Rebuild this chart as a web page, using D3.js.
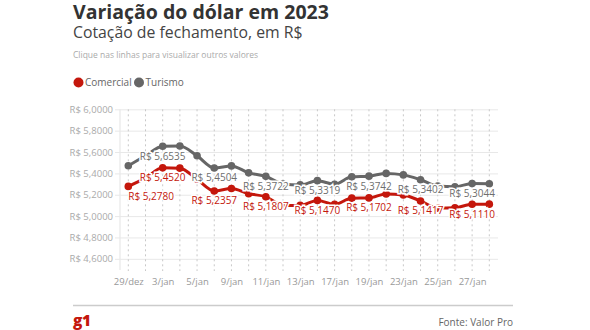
<!DOCTYPE html>
<html>
<head>
<meta charset="utf-8">
<script src="https://cdn.jsdelivr.net/npm/d3@7"></script>
<style>
  body { margin: 0; background: #fff; font-family: "Open Sans", sans-serif; }
  svg { display: block; }
</style>
</head>
<body>
<div id="chart"></div>
<script>
// datas do pregão
var dates = ['29/dez', '2/jan', '3/jan', '4/jan', '5/jan', '6/jan', '9/jan', '10/jan', '11/jan',
    '12/jan', '13/jan', '16/jan', '17/jan', '18/jan', '19/jan', '20/jan', '23/jan', '24/jan',
    '25/jan', '26/jan', '27/jan', '30/jan'];

var comercial = [5.2780, 5.358, 5.4520, 5.449, 5.345, 5.2357, 5.259, 5.210, 5.1807,
    5.100, 5.100, 5.1470, 5.110, 5.168, 5.1702, 5.208, 5.198, 5.1417,
    5.075, 5.078, 5.1110, 5.112];

var turismo = [5.471, 5.565, 5.6535, 5.657, 5.565, 5.4504, 5.470, 5.405, 5.3722,
    5.300, 5.292, 5.3319, 5.298, 5.368, 5.3742, 5.400, 5.386, 5.3402,
    5.282, 5.275, 5.3044, 5.303];

var yTicks = [4.6, 4.8, 5.0, 5.2, 5.4, 5.6, 5.8, 6.0];
var xTickLabels = ['29/dez', '3/jan', '5/jan', '9/jan', '11/jan', '13/jan', '17/jan', '19/jan', '23/jan', '25/jan', '27/jan'];

// pontos com rótulo de valor
var labelIdxComercial = [0, 2, 5, 8, 11, 14, 17, 20];
var labelIdxTurismo = [2, 5, 8, 11, 14, 17, 20];

var red = '#c4170c';
var gray = '#666666';

function brl(v) {
    return 'R$ ' + v.toFixed(4).replace('.', ',');
}

var svg = d3.select('#chart')
    .append('svg')
        .attr('width', 590)
        .attr('height', 330);

// cabeçalho
svg.append('text')
    .attr('x', 73).attr('y', 18.5)
    .style('font-size', '19.5px').style('font-weight', 700).style('fill', '#333')
    .text('Variação do dólar em 2023');

svg.append('text')
    .attr('x', 73).attr('y', 37.5)
    .style('font-size', '15.8px').style('fill', '#444')
    .text('Cotação de fechamento, em R$');

svg.append('text')
    .attr('x', 73).attr('y', 58)
    .style('font-size', '8.5px').style('fill', '#aaa')
    .text('Clique nas linhas para visualizar outros valores');

var legend = [{name: 'Comercial', color: red, x: 78.5}, {name: 'Turismo', color: gray, x: 139}];
var lg = svg.selectAll('.legend')
    .data(legend)
    .enter()
    .append('g')
    .attr('transform', d => 'translate(' + d.x + ',82.5)');
lg.append('circle').attr('r', 5).attr('fill', d => d.color);
lg.append('text')
    .attr('x', 6.5).attr('y', 3.6)
    .style('font-size', '10px').style('fill', '#666')
    .text(d => d.name);

// escalas
var x = d3.scalePoint()
    .domain(dates)
    .range([128.3, 489.3]);

var y = d3.scaleLinear()
    .domain([4.5, 6.0])
    .range([269.5, 109.3]);

// grade horizontal + eixo y
var yAxis = svg.append('g')
    .attr('transform', 'translate(120,0)')
    .call(d3.axisLeft(y)
        .tickValues(yTicks)
        .tickSize(-378)
        .tickPadding(7)
        .tickFormat(brl));
yAxis.select('.domain').attr('stroke', '#e3e3e3').attr('d', 'M0,109.3V270');
yAxis.selectAll('.tick line').attr('stroke', '#e8e8e8').attr('x1', -5);
yAxis.selectAll('.tick text')
    .style('font-family', '"Open Sans", sans-serif')
    .style('font-size', '9.5px').style('fill', '#aaa');

// linhas verticais pontilhadas
svg.append('g')
    .selectAll('line')
    .data(dates)
    .enter()
    .append('line')
    .attr('x1', d => x(d)).attr('x2', d => x(d))
    .attr('y1', 109.3).attr('y2', 271)
    .attr('stroke', '#c8c8c8')
    .attr('stroke-dasharray', '2,3');

// eixo x
var xAxis = svg.append('g')
    .attr('transform', 'translate(0,271)')
    .call(d3.axisBottom(x)
        .tickValues(xTickLabels)
        .tickSize(0)
        .tickPadding(7));
xAxis.select('.domain').remove();
xAxis.selectAll('.tick text')
    .style('font-family', '"Open Sans", sans-serif')
    .style('font-size', '9.5px').style('fill', '#999');

var line = d3.line()
    .x((d, i) => x(dates[i]))
    .y(d => y(d))
    .curve(d3.curveMonotoneX);

function drawSeries(values, color) {
    svg.append('path')
        .datum(values)
        .attr('d', line)
        .attr('fill', 'none')
        .attr('stroke', color)
        .attr('stroke-width', 3);

    svg.append('g')
        .selectAll('circle')
        .data(values)
        .enter()
        .append('circle')
        .attr('cx', (d, i) => x(dates[i]))
        .attr('cy', d => y(d))
        .attr('r', 3.8)
        .attr('fill', color);
}

function drawLabels(values, color, labelIdx) {
    svg.append('g')
        .selectAll('text')
        .data(labelIdx)
        .enter()
        .append('text')
        .attr('x', i => x(dates[i]))
        .attr('y', i => y(values[i]) + 13.5)
        .attr('text-anchor', i => i === 0 ? 'start' : 'middle')
        .style('font-size', '10px')
        .style('fill', color)
        .style('stroke', '#fff')
        .style('stroke-width', 3)
        .style('paint-order', 'stroke')
        .text(i => brl(values[i]));
}

drawSeries(turismo, gray);
drawSeries(comercial, red);
drawLabels(turismo, '#6e6e6e', labelIdxTurismo);
drawLabels(comercial, '#c4170c', labelIdxComercial);

// rodapé
svg.append('line')
    .attr('x1', 73).attr('x2', 513)
    .attr('y1', 305.5).attr('y2', 305.5)
    .attr('stroke', '#ccc').attr('stroke-width', 1.5);

svg.append('text')
    .attr('x', 73).attr('y', 325.5)
    .style('font-size', '15.5px').style('font-weight', 800)
    .style('letter-spacing', '-0.5px')
    .style('fill', red)
    .text('g1');

svg.append('text')
    .attr('x', 513).attr('y', 326)
    .attr('text-anchor', 'end')
    .style('font-size', '10px').style('fill', '#666')
    .text('Fonte: Valor Pro');
</script>
</body>
</html>
